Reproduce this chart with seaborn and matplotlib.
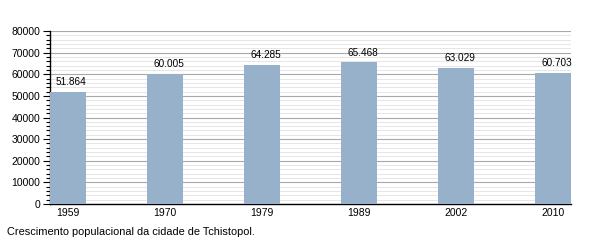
import matplotlib
matplotlib.use("Agg")
import matplotlib.pyplot as plt
import seaborn as sns
import pandas as pd
from matplotlib.ticker import MultipleLocator

years = ["1959", "1970", "1979", "1989", "2002", "2010"]
population = [51864, 60005, 64285, 65468, 63029, 60703]
labels = ["51.864", "60.005", "64.285", "65.468", "63.029", "60.703"]
caption = "Crescimento populacional da cidade de Tchistopol."

sns.set_style("white")
plt.rcParams["font.family"] = ["Liberation Sans", "DejaVu Sans"]
plt.rcParams["text.color"] = "black"
plt.rcParams["xtick.color"] = "black"
plt.rcParams["ytick.color"] = "black"

df = pd.DataFrame({"year": years, "pop": population})

fig = plt.figure(figsize=(6, 2.44), dpi=100)
ax = fig.add_axes([50/600, 40/244, 521/600, 173/244])

w = 0.37
sns.barplot(data=df, x="year", y="pop", color="#97b1cb", width=w, saturation=1,
            ax=ax, zorder=3)
for p in ax.patches:
    p.set_edgecolor("none")

ax.set_xlim(-w/2, len(years) - 1 + w/2)
ax.set_ylim(0, 80000)
ax.yaxis.set_major_locator(MultipleLocator(10000))
ax.yaxis.set_minor_locator(MultipleLocator(2000))
ax.grid(which="major", axis="y", color="#a8a8a8", linewidth=0.8, zorder=0)
ax.grid(which="minor", axis="y", color="#e2e2e2", linewidth=0.6, zorder=0)
ax.set_axisbelow(True)

for s in ["top", "right"]:
    ax.spines[s].set_visible(False)
for s in ["left", "bottom"]:
    ax.spines[s].set_color("black")
    ax.spines[s].set_linewidth(1.0)

ax.tick_params(axis="y", which="major", left=True, length=5, width=0.8,
               labelsize=7.5, pad=2, color="black", labelcolor="black")
ax.tick_params(axis="y", which="minor", left=True, length=3, width=0.8, color="black")
ax.tick_params(axis="x", bottom=False, length=0, labelsize=7.5, pad=3,
               labelcolor="black")
ax.set_xlabel("")
ax.set_ylabel("")

for i, (v, t) in enumerate(zip(population, labels)):
    ax.annotate(t, (i, v), xytext=(2.5, 3.5), textcoords="offset points",
                ha="center", va="bottom", fontsize=7.2, color="black")

fig.text(7/600, 1 - 232/244, caption, fontsize=7.9, va="center", ha="left",
         color="black")

fig.savefig("out.png", dpi=100, facecolor="white")
